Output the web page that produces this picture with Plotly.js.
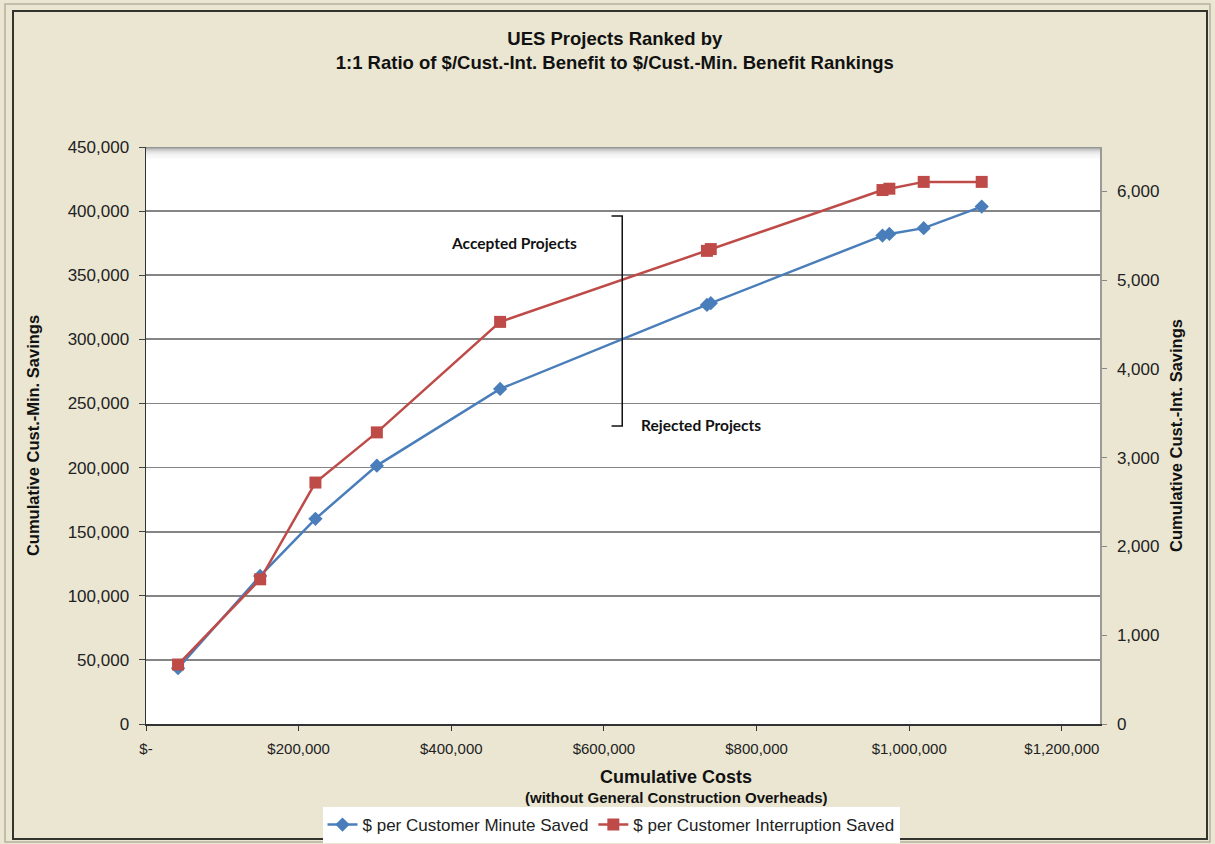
<!DOCTYPE html>
<html>
<head>
<meta charset="utf-8">
<script src="https://cdn.plot.ly/plotly-3.0.1.min.js"></script>
<style>
  html, body { margin: 0; padding: 0; background: #EAE6D2; }
  #chart { width: 1215px; height: 844px; }
</style>
</head>
<body>
<div id="chart"></div>
<script>
// Cumulative costs ($) for each ranked project
const cumulativeCosts = [42000, 149600, 222000, 302500, 464000, 735000, 740000, 965000, 974000, 1019000, 1095000];
// Cumulative customer-minute savings (left axis)
const custMinSavings = [43500, 115500, 160000, 201500, 261300, 326800, 328200, 380900, 382200, 386700, 403500];
// Cumulative customer-interruption savings (right axis)
const custIntSavings = [670, 1630, 2720, 3285, 4530, 5330, 5350, 6015, 6030, 6107, 6107];

const seriesNames = ["$ per Customer Minute Saved", "$ per Customer Interruption Saved"];
const xTickVals = [0, 200000, 400000, 600000, 800000, 1000000, 1200000];
const xTickText = ["$-", "$200,000", "$400,000", "$600,000", "$800,000", "$1,000,000", "$1,200,000"];

const FONT = "Arial, 'Liberation Sans', sans-serif";

const traces = [
  {
    x: cumulativeCosts, y: custMinSavings, name: seriesNames[0],
    type: "scatter", mode: "lines+markers", yaxis: "y",
    line: {color: "#4A7EBB", width: 2.5},
    marker: {symbol: "diamond", size: 11, color: "#4A7EBB"}
  },
  {
    x: cumulativeCosts, y: custIntSavings, name: seriesNames[1],
    type: "scatter", mode: "lines+markers", yaxis: "y2",
    line: {color: "#BE4B48", width: 2.5},
    marker: {symbol: "square", size: 12, color: "#BE4B48"}
  }
];

// top-of-plot shadow (styling only)
const shadow = [];
for (let i = 0; i < 12; i++) {
  shadow.push({
    type: "rect", xref: "paper", yref: "paper", layer: "below",
    x0: 0, x1: 1, y0: 1 - (i + 1) / 577, y1: 1 - i / 577,
    line: {width: 0}, fillcolor: "rgba(80,80,80," + (0.6 * Math.pow(0.75, i)).toFixed(3) + ")"
  });
}

const PW = 954, PH = 577; // plot area size in px, for frame placement

const layout = {
  width: 1215, height: 844,
  paper_bgcolor: "#EAE6D2",
  plot_bgcolor: "#FFFFFF",
  margin: {l: 146, r: 115, t: 147, b: 120, pad: 0, autoexpand: false},
  font: {family: FONT, color: "#222"},
  showlegend: true,
  title: {
    text: "<b>UES Projects Ranked by<br>1:1 Ratio of $/Cust.-Int. Benefit to $/Cust.-Min. Benefit Rankings</b>",
    font: {family: FONT, size: 18.5, color: "#111"},
    x: 0.506, xref: "container", xanchor: "center",
    y: 1 - 45 / 844, yref: "container", yanchor: "top"
  },
  xaxis: {
    range: [0, 1250000],
    tickvals: xTickVals, ticktext: xTickText,
    ticks: "outside", ticklen: 5, tickcolor: "#333", tickwidth: 1,
    ticklabelstandoff: 5,
    showline: true, linecolor: "#333", linewidth: 1.5,
    showgrid: false, zeroline: false,
    tickfont: {family: FONT, size: 15, color: "#222"}
  },
  yaxis: {
    range: [0, 450000], dtick: 50000, tickformat: ",",
    ticks: "outside", ticklen: 6, tickcolor: "#444", tickwidth: 1,
    ticklabelstandoff: 6,
    showline: true, linecolor: "#333", linewidth: 1.5,
    showgrid: true, gridcolor: "#858585", gridwidth: 1.8,
    zeroline: false,
    tickfont: {family: FONT, size: 17, color: "#222"},
    title: {text: "<b>Cumulative Cust.-Min. Savings</b>", font: {family: FONT, size: 16.5, color: "#111"}, standoff: 24}
  },
  yaxis2: {
    overlaying: "y", side: "right",
    range: [0, 6500], dtick: 1000, tickformat: ",",
    ticks: "outside", ticklen: 5, tickcolor: "#888", tickwidth: 1,
    ticklabelstandoff: 7,
    showline: true, linecolor: "#9A9A9A", linewidth: 1.5,
    showgrid: false, zeroline: false,
    tickfont: {family: FONT, size: 17, color: "#222"},
    title: {text: "<b>Cumulative Cust.-Int. Savings</b>", font: {family: FONT, size: 16.5, color: "#111"}, standoff: 12}
  },
  legend: {
    orientation: "h",
    x: 611 / 1215, xanchor: "center", xref: "container",
    y: (844 - 807) / 844, yanchor: "top", yref: "container",
    bgcolor: "#FFFFFF", borderwidth: 0,
    font: {family: FONT, size: 17, color: "#222"},
    itemwidth: 30
  },
  annotations: [
    {text: "<b>Cumulative Costs</b>", xref: "paper", yref: "paper", x: 0.556, y: -53 / PH, xanchor: "center", yanchor: "middle",
     showarrow: false, font: {family: FONT, size: 18, color: "#111"}},
    {text: "<b>(without General Construction Overheads)</b>", xref: "paper", yref: "paper", x: 0.556, y: -73 / PH, xanchor: "center", yanchor: "middle",
     showarrow: false, font: {family: FONT, size: 15, color: "#111"}},
    {text: "<b>Accepted Projects</b>", xref: "x", yref: "y", x: 482000, y: 375000, xanchor: "center", yanchor: "middle",
     showarrow: false, font: {family: "Lato, 'Open Sans', sans-serif", size: 15.5, color: "#111"}},
    {text: "<b>Rejected Projects</b>", xref: "x", yref: "y", x: 727000, y: 233000, xanchor: "center", yanchor: "middle",
     showarrow: false, font: {family: "Lato, 'Open Sans', sans-serif", size: 15.5, color: "#111"}}
  ],
  shapes: shadow.concat([
    // bracket separating accepted and rejected projects
    {type: "path", xref: "x", yref: "y", path: "M 610000 396200 L 624000 396200 L 624000 232400 L 610000 232400",
     line: {color: "#111", width: 1.5}},
    // outer frame (light outer line, dark inner line)
    {type: "rect", xref: "paper", yref: "paper", x0: -141 / PW, x1: 1064 / PW, y0: -118 / PH, y1: 143 / PH + 1,
     line: {color: "#B5B1A0", width: 1.5}},
    {type: "rect", xref: "paper", yref: "paper", x0: -133 / PW, x1: 1061 / PW, y0: -115 / PH, y1: 136 / PH + 1,
     line: {color: "#34342E", width: 2}}
  ])
};

Plotly.newPlot("chart", traces, layout, {displayModeBar: false, staticPlot: true});
</script>
</body>
</html>
